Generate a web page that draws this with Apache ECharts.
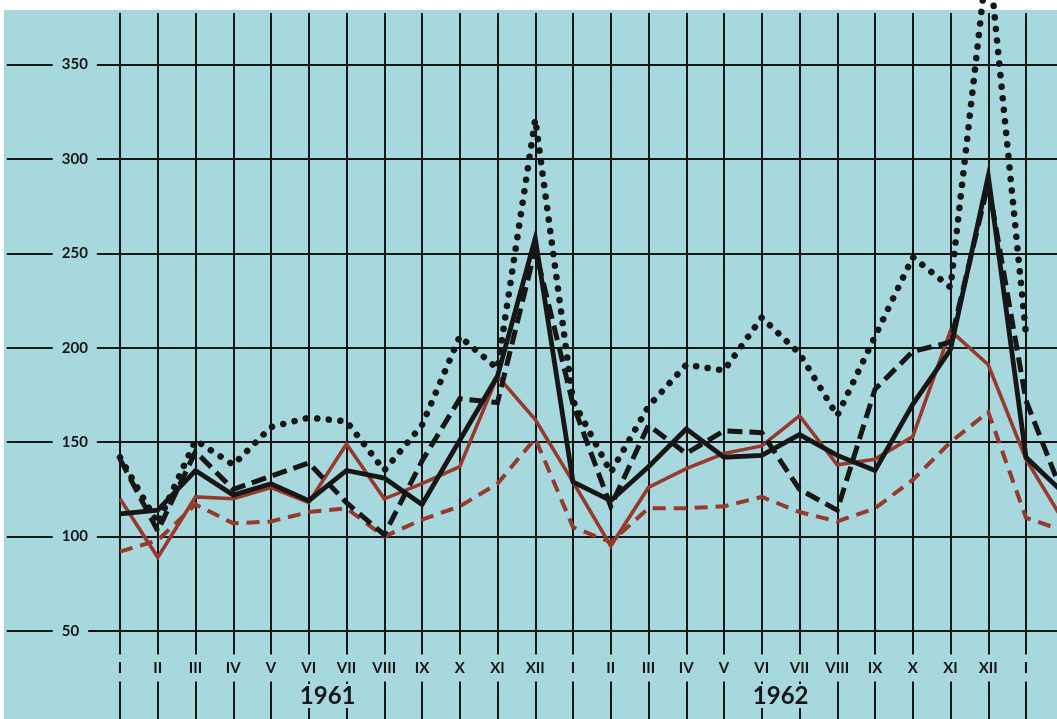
<!DOCTYPE html>
<html><head><meta charset="utf-8">
<script src="https://cdn.jsdelivr.net/npm/echarts@6.0.0/dist/echarts.min.js"></script>
<style>
html,body{margin:0;padding:0;background:#fff;}
#wrap{position:relative;width:1057px;height:719px;overflow:hidden;background:#fff;}
#bg{position:absolute;left:4px;top:10px;right:0;bottom:0;background:#a6d8de;}
#chart{position:absolute;left:0;top:0;width:1057px;height:719px;}
</style></head><body>
<div id="wrap"><div id="bg"></div><div id="chart"></div></div>
<script>
// Month tick labels (Jan 1961 .. Jan 1963)
const months = ['I','II','III','IV','V','VI','VII','VIII','IX','X','XI','XII',
                'I','II','III','IV','V','VI','VII','VIII','IX','X','XI','XII','I'];
// Year labels, one slot per month interval
const yearSlots = ['','','','','','1961','','','','','','',
                   '','','','','','1962','','','','','',''];
// Series values (index 0 = I 1961; last value of some series = II 1963, running off the edge)
const blackSolid  = [112,114,135,122,128,119,135,131,117,151,185,258,129,119,137,157,142,143,154,143,135,170,199,291,142,123];
const blackDashed = [141,103,145,125,132,139,118,101,140,173,171,252,170,116,159,144,156,155,125,114,178,198,203,287,172,121];
const blackDotted = [142,107,151,138,158,163,161,135,159,206,189,321,172,134,169,191,188,216,197,164,206,248,232,410,207];
const redSolid    = [120,89,121,120,126,118,149,120,128,137,185,162,129,95,126,136,144,148,164,138,141,153,209,191,141,108];
const redDashed   = [92,98,117,107,108,113,115,100,109,116,128,152,105,97,115,115,116,121,113,108,115,130,150,166,110,103];

const BLUE = '#a6d8de';
const INK = '#161616';
const RED = '#963a2e';
const toXY = arr => arr.map((v, i) => [i, v]);

const chart = echarts.init(document.getElementById('chart'), null, {renderer: 'canvas'});
const line = (data, color, width, type, cap, z) => ({
  type: 'line', xAxisIndex: 0, yAxisIndex: 0, data: toXY(data),
  symbol: 'none', smooth: false, clip: false, z: z,
  lineStyle: {color: color, width: width, type: type, cap: cap, join: 'miter'}
});

chart.setOption({
  animation: false,
  grid: [
    {left: 6.75, top: -29.9, width: 1057, height: 755.3, outerBoundsMode: 'none', containLabel: false},
    {left: 120, top: 13, width: 906, bottom: 0, outerBoundsMode: 'none', containLabel: false},
    {left: 120, top: 13, width: 906, bottom: 0, outerBoundsMode: 'none', containLabel: false}
  ],
  xAxis: [
    {gridIndex: 0, type: 'value', min: -3, max: 25, show: false},
    {gridIndex: 1, type: 'category', data: months, boundaryGap: false, z: 1,
     axisLine: {show: false}, axisTick: {show: false},
     axisLabel: {interval: 0, margin: -51, verticalAlign: 'middle', color: INK,
                 fontFamily: 'Lato', fontWeight: 'bold', fontSize: 15,
                 backgroundColor: BLUE, padding: [6, 3, 6, 3]},
     splitLine: {show: true, interval: 0, lineStyle: {color: INK, width: 2}}},
    {gridIndex: 2, type: 'category', data: yearSlots, boundaryGap: true, z: 3,
     axisLine: {show: false}, axisTick: {show: false},
     axisLabel: {interval: 0, margin: -23, verticalAlign: 'middle', color: INK,
                 fontFamily: 'Lato', fontWeight: 'bold', fontSize: 24,
                 backgroundColor: BLUE, padding: [0, 1, 0, 1]},
     splitLine: {show: false}}
  ],
  yAxis: [
    {gridIndex: 0, type: 'value', min: 0, max: 400, interval: 50,
     axisLine: {show: false}, axisTick: {show: false},
     axisLabel: {inside: true, margin: 46, color: INK, fontFamily: 'Lato', fontWeight: 'bold', fontSize: 15,
                 backgroundColor: BLUE, padding: [3, 9, 3, 9],
                 formatter: v => (v === 0 || v === 400) ? '' : String(v)},
     splitLine: {show: true, lineStyle: {color: INK, width: 2}}},
    {gridIndex: 1, type: 'value', show: false},
    {gridIndex: 2, type: 'value', show: false}
  ],
  series: [
    line(redDashed, RED, 4, [13, 8], 'butt', 2),
    line(redSolid, RED, 3.6, 'solid', 'butt', 2),
    line(blackDotted, INK, 6.5, [0.1, 11.5], 'round', 3),
    line(blackDashed, INK, 5, [15, 7], 'butt', 3),
    line(blackSolid, INK, 4.8, 'solid', 'butt', 4)
  ]
});
</script>
</body></html>
